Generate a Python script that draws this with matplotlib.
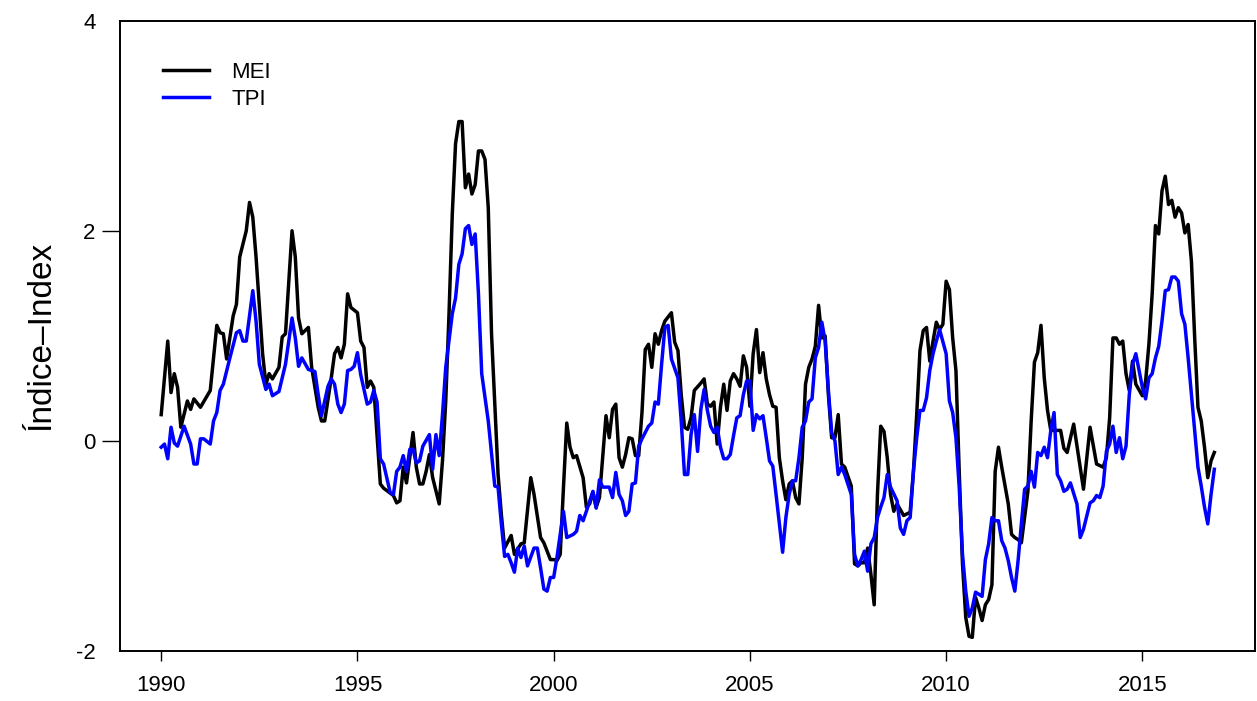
import numpy as np
import matplotlib
matplotlib.use("Agg")
import matplotlib.pyplot as plt

plt.rcParams['font.family'] = ['Liberation Sans', 'DejaVu Sans']

# months since Jan 1990 and index values
mei_months = [0, 2, 3, 4, 5, 6, 8, 9, 10, 12, 15, 17, 18, 19, 20, 22, 23, 24, 26, 27, 28, 29,
              31, 32, 33, 34, 36, 37, 38, 40, 41, 42, 43, 45, 46, 48, 49, 50, 52, 53, 54, 55,
              56, 57, 58, 60, 61, 62, 63, 64, 65, 67, 68, 71, 72, 73, 74, 75, 76, 77, 78, 79,
              80, 81, 82, 83, 85, 86, 87, 88, 89, 90, 91, 92, 93, 94, 95, 96, 97, 98, 99, 100,
              101, 103, 104, 105, 107, 108, 110, 111, 113, 114, 116, 117, 119, 120, 121, 122,
              123, 124, 125, 126, 127, 129, 130, 131, 132, 133, 134, 136, 137, 138, 139, 140,
              141, 142, 143, 144, 145, 146, 147, 148, 149, 150, 151, 152, 153, 154, 156, 157,
              158, 159, 160, 161, 162, 163, 165, 166, 167, 168, 169, 170, 171, 172, 173, 174,
              175, 176, 177, 178, 179, 180, 181, 182, 183, 184, 185, 186, 187, 188, 189, 190,
              191, 192, 193, 194, 195, 196, 197, 198, 199, 200, 201, 202, 203, 204, 205, 206,
              207, 208, 209, 211, 212, 213, 214, 215, 216, 217, 218, 219, 220, 221, 222, 223,
              224, 225, 227, 229, 230, 231, 232, 233, 234, 235, 236, 237, 238, 239, 240, 241,
              242, 243, 244, 245, 246, 247, 248, 249, 250, 251, 252, 253, 254, 255, 256, 257,
              259, 260, 261, 262, 263, 265, 266, 267, 268, 269, 270, 271, 272, 274, 275, 276,
              277, 279, 281, 282, 284, 286, 288, 289, 290, 291, 292, 293, 294, 295, 296, 297,
              298, 300, 301, 302, 303, 304, 305, 306, 307, 308, 309, 310, 311, 312, 313, 314,
              315, 316, 317, 318, 319, 320, 321, 322]
mei_values = [0.25, 0.95, 0.46, 0.64, 0.51, 0.13, 0.38, 0.30, 0.40, 0.32, 0.48, 1.10, 1.03, 1.02,
              0.78, 1.19, 1.30, 1.75, 2.00, 2.27, 2.13, 1.75, 0.83, 0.54, 0.64, 0.59, 0.70, 0.99,
              1.02, 2.00, 1.75, 1.17, 1.02, 1.08, 0.70, 0.32, 0.19, 0.19, 0.60, 0.83, 0.89, 0.79,
              0.92, 1.40, 1.27, 1.22, 0.95, 0.89, 0.51, 0.57, 0.51, -0.41, -0.45, -0.52, -0.59,
              -0.57, -0.25, -0.40, -0.16, 0.08, -0.25, -0.41, -0.41, -0.29, -0.13, -0.35, -0.60,
              -0.19, 0.38, 1.21, 2.16, 2.83, 3.04, 3.04, 2.41, 2.54, 2.35, 2.44, 2.76, 2.76, 2.68,
              2.22, 1.02, -0.32, -0.70, -1.02, -0.90, -1.08, -0.98, -0.97, -0.35, -0.51, -0.92,
              -0.97, -1.13, -1.13, -1.14, -1.08, -0.44, 0.17, -0.06, -0.16, -0.14, -0.35, -0.63,
              -0.60, -0.49, -0.63, -0.54, 0.24, 0.03, 0.30, 0.35, -0.16, -0.25, -0.13, 0.03, 0.02,
              -0.14, -0.14, 0.27, 0.87, 0.92, 0.70, 1.02, 0.92, 1.05, 1.14, 1.22, 0.94, 0.86, 0.44,
              0.13, 0.11, 0.22, 0.48, 0.55, 0.59, 0.35, 0.33, 0.37, -0.03, 0.32, 0.54, 0.29, 0.57,
              0.64, 0.59, 0.52, 0.81, 0.70, 0.33, 0.83, 1.06, 0.65, 0.84, 0.59, 0.44, 0.33, 0.32,
              -0.16, -0.38, -0.56, -0.41, -0.38, -0.54, -0.60, -0.16, 0.54, 0.70, 0.78, 0.90, 1.29,
              0.98, 1.00, 0.44, 0.03, 0.03, 0.25, -0.22, -0.25, -0.43, -1.17, -1.19, -1.16, -1.16,
              -1.02, -1.27, -1.56, -0.51, 0.14, 0.09, -0.16, -0.51, -0.67, -0.60, -0.71, -0.68,
              -0.29, 0.25, 0.86, 1.05, 1.08, 0.76, 0.95, 1.13, 1.06, 1.11, 1.52, 1.44, 0.98, 0.67,
              -0.29, -1.17, -1.68, -1.86, -1.87, -1.49, -1.59, -1.71, -1.56, -1.51, -1.37, -0.29,
              -0.06, -0.25, -0.60, -0.89, -0.92, -0.94, -0.97, -0.48, 0.19, 0.75, 0.84, 1.10, 0.60,
              0.29, 0.10, 0.10, 0.10, -0.07, -0.11, 0.16, -0.25, -0.46, 0.13, -0.22, -0.25, -0.16,
              0.22, 0.98, 0.98, 0.92, 0.95, 0.64, 0.48, 0.76, 0.54, 0.43, 0.57, 0.92, 1.40, 2.05,
              1.97, 2.38, 2.52, 2.25, 2.29, 2.13, 2.22, 2.17, 1.98, 2.06, 1.71, 0.98, 0.32, 0.19,
              -0.06, -0.35, -0.19, -0.11]

tpi_months = [0, 1, 2, 3, 4, 5, 7, 9, 10, 11, 12, 13, 15, 16, 17, 18, 19, 21, 23, 24, 25, 26,
              28, 29, 30, 32, 33, 34, 36, 38, 40, 41, 42, 43, 45, 47, 48, 49, 51, 52, 53, 54,
              55, 56, 57, 58, 59, 60, 61, 63, 64, 65, 66, 67, 68, 70, 71, 72, 73, 74, 75, 76,
              77, 78, 79, 80, 82, 83, 84, 85, 86, 87, 89, 90, 91, 92, 93, 94, 95, 96, 97, 98,
              100, 102, 103, 104, 105, 106, 107, 108, 109, 110, 111, 112, 114, 115, 116, 117,
              118, 119, 120, 121, 122, 123, 124, 126, 127, 128, 129, 130, 132, 133, 134, 135,
              137, 138, 139, 140, 141, 142, 143, 144, 145, 146, 147, 149, 150, 151, 152, 153,
              154, 155, 156, 158, 159, 160, 161, 162, 163, 164, 165, 166, 167, 168, 169, 170,
              171, 172, 173, 174, 175, 176, 177, 178, 179, 180, 181, 182, 183, 184, 185, 186,
              187, 188, 190, 191, 192, 193, 194, 195, 196, 197, 198, 199, 200, 201, 202, 203,
              204, 205, 206, 207, 208, 209, 211, 212, 213, 214, 215, 216, 217, 218, 219, 220,
              221, 222, 223, 225, 226, 227, 228, 229, 230, 231, 232, 233, 234, 235, 236, 237,
              238, 240, 241, 242, 243, 244, 245, 246, 247, 248, 249, 250, 251, 252, 253, 254,
              255, 256, 257, 258, 259, 260, 261, 262, 263, 264, 265, 266, 267, 268, 269, 270,
              271, 272, 273, 274, 275, 276, 277, 278, 280, 281, 282, 284, 285, 286, 287, 288,
              289, 290, 291, 292, 293, 294, 295, 296, 297, 298, 299, 300, 301, 302, 303, 304,
              305, 306, 307, 308, 309, 310, 311, 312, 313, 314, 315, 316, 317, 318, 319, 320,
              321, 322]
tpi_values = [-0.06, -0.03, -0.17, 0.13, -0.02, -0.05, 0.14, -0.03, -0.22, -0.22, 0.02, 0.02,
              -0.03, 0.19, 0.27, 0.48, 0.54, 0.79, 1.03, 1.05, 0.95, 0.95, 1.43, 1.14, 0.73, 0.49,
              0.54, 0.43, 0.47, 0.73, 1.17, 0.98, 0.71, 0.79, 0.68, 0.66, 0.44, 0.24, 0.52, 0.59,
              0.54, 0.35, 0.27, 0.35, 0.67, 0.68, 0.71, 0.84, 0.63, 0.35, 0.37, 0.48, 0.37, -0.17,
              -0.22, -0.49, -0.51, -0.29, -0.25, -0.14, -0.29, -0.08, -0.08, -0.21, -0.19, -0.05,
              0.06, -0.27, 0.06, -0.14, 0.25, 0.70, 1.21, 1.36, 1.68, 1.78, 2.02, 2.05, 1.87, 1.97,
              1.40, 0.64, 0.19, -0.43, -0.44, -0.79, -1.10, -1.08, -1.16, -1.25, -1.02, -1.11,
              -1.00, -1.19, -1.02, -1.02, -1.21, -1.41, -1.43, -1.30, -1.30, -1.11, -0.89, -0.67,
              -0.92, -0.89, -0.86, -0.71, -0.76, -0.67, -0.48, -0.64, -0.37, -0.44, -0.44, -0.54,
              -0.30, -0.51, -0.57, -0.71, -0.67, -0.41, -0.40, -0.05, 0.02, 0.14, 0.17, 0.37, 0.35,
              0.73, 1.08, 1.10, 0.78, 0.60, 0.19, -0.32, -0.32, 0.06, 0.25, -0.10, 0.30, 0.49,
              0.29, 0.14, 0.08, 0.13, -0.06, -0.17, -0.17, -0.13, 0.05, 0.22, 0.24, 0.44, 0.57,
              0.57, 0.10, 0.25, 0.21, 0.24, 0.03, -0.19, -0.24, -0.51, -1.06, -0.73, -0.51, -0.38,
              -0.38, -0.16, 0.13, 0.19, 0.37, 0.40, 0.79, 0.89, 1.13, 0.95, 0.48, 0.08, 0.00,
              -0.32, -0.25, -0.32, -0.51, -1.08, -1.19, -1.13, -1.05, -1.24, -0.98, -0.92, -0.73,
              -0.63, -0.54, -0.32, -0.44, -0.57, -0.83, -0.89, -0.76, -0.73, -0.29, 0.03, 0.29,
              0.29, 0.41, 0.67, 0.83, 0.95, 1.06, 0.83, 0.38, 0.27, 0.03, -0.44, -1.08, -1.43,
              -1.67, -1.59, -1.44, -1.46, -1.48, -1.13, -0.98, -0.73, -0.76, -0.76, -0.95, -1.02,
              -1.14, -1.30, -1.43, -1.14, -0.79, -0.46, -0.43, -0.29, -0.44, -0.11, -0.14, -0.06,
              -0.16, 0.10, 0.27, -0.32, -0.38, -0.48, -0.46, -0.40, -0.60, -0.92, -0.84, -0.59,
              -0.57, -0.52, -0.54, -0.43, -0.10, -0.03, 0.14, -0.11, 0.03, -0.17, -0.05, 0.44,
              0.73, 0.83, 0.67, 0.51, 0.40, 0.60, 0.64, 0.79, 0.90, 1.14, 1.43, 1.44, 1.56, 1.56,
              1.52, 1.21, 1.11, 0.79, 0.44, 0.10, -0.25, -0.43, -0.63, -0.79, -0.51, -0.27]

year_ticks = [1990, 1995, 2000, 2005, 2010, 2015]
y_ticks = [-2, 0, 2, 4]

mei_t = 1990 + np.array(mei_months) / 12.0
tpi_t = 1990 + np.array(tpi_months) / 12.0

fig = plt.figure(figsize=(12.57, 7.01), dpi=100)
ax = fig.add_axes([120 / 1257, 1 - 651 / 701, 1135 / 1257, 630.3 / 701])

ax.plot(mei_t, mei_values, color='black', linewidth=2.5, label='MEI')
ax.plot(tpi_t, tpi_values, color='#0000ff', linewidth=2.5, label='TPI')

ax.set_xlim(1988.95, 2017.87)
ax.set_ylim(-2, 4)
ax.set_xticks(year_ticks)
ax.set_yticks(y_ticks)
ax.set_yticklabels([str(v) for v in y_ticks])
ax.tick_params(axis='x', direction='out', length=7.2, width=1.0, pad=10, labelsize=16)
ax.tick_params(axis='y', direction='out', length=13, width=1.0, pad=4.5, labelsize=16)
# only the 0 and 2 ticks carry a mark on the y axis
for t in ax.yaxis.get_major_ticks():
    if t.get_loc() in (-2, 4):
        t.tick1line.set_visible(False)

for s in ax.spines.values():
    s.set_linewidth(1.4)

ax.set_ylabel('Índice–Index', fontsize=24, labelpad=14)

ax.legend(loc='upper left', bbox_to_anchor=(0.0379, 0.935), frameon=False, fontsize=16,
          handlelength=2.07, handletextpad=1.0, labelspacing=0.29, borderpad=0, borderaxespad=0)

fig.savefig('out.png', dpi=100)
